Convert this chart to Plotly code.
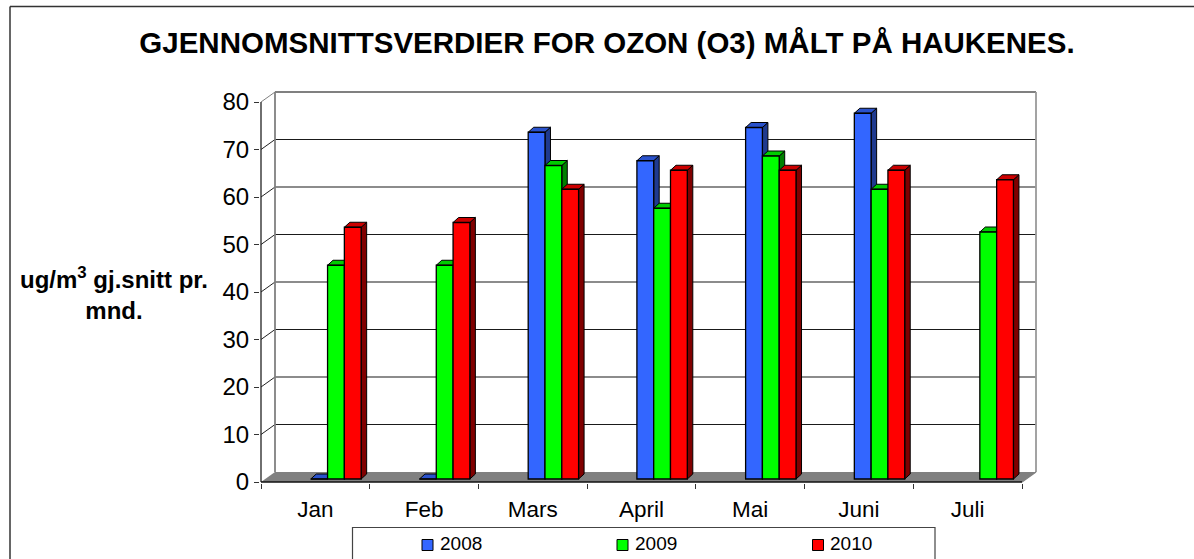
import plotly.graph_objects as go

months = ["Jan", "Feb", "Mars", "April", "Mai", "Juni", "Juli"]
y2008 = [0, 0, 73, 67, 74, 77, None]
y2009 = [45, 45, 66, 57, 68, 61, 52]
y2010 = [53, 54, 61, 65, 65, 65, 63]
y_ticks = [0, 10, 20, 30, 40, 50, 60, 70, 80]
series_names = ["2008", "2009", "2010"]
front_colors = ["#3366FF", "#00FF00", "#FF0000"]
side_colors = ["#1F3A8F", "#008000", "#800000"]
top_colors = ["#2A52CC", "#00CC00", "#CC0000"]

W, H = 1194, 559
PX_L, PX_R, PX_T, PX_B = 260, 1038, 90, 483   # plot-area box in page pixels
X0, Y0 = 261, 482                             # page position of x=-0.5, y=0
PX_X = (1022 - 261) / 7                       # pixels per category
PX_Y = 47.5 / 10                              # pixels per value unit
WALL_DX, WALL_DY = 14 / PX_X, 10 / PX_Y       # back wall offset
BAR_DX, BAR_DY = 5.5 / PX_X, 5 / PX_Y         # bar depth
BASE = 3 / PX_Y                               # bars start above the front edge
BAR_W = 16.8 / PX_X
BAR_LEFT = -4.6 / PX_X

XMIN = -0.5 + (PX_L - X0) / PX_X
XMAX = -0.5 + (PX_R - X0) / PX_X
YMIN = (Y0 - PX_B) / PX_Y
YMAX = (Y0 - PX_T) / PX_Y


def px(x):
    return (x - PX_L) / (PX_R - PX_L)


def py(y):
    return (PX_B - y) / (PX_B - PX_T)


def poly(points, fill, width=1, color="#000000"):
    d = "M" + " L".join(f"{a:.4f},{b:.4f}" for a, b in points) + " Z"
    return dict(type="path", path=d, xref="x", yref="y", layer="below",
                fillcolor=fill, line=dict(color=color, width=width))


def seg(x0, y0, x1, y1, color, width):
    return dict(type="line", x0=x0, y0=y0, x1=x1, y1=y1, xref="x", yref="y",
                layer="below", line=dict(color=color, width=width))


xl, xr = -0.5, 6.5
shapes = []
# outer frame (top and left only are on the page) and legend box
shapes.append(dict(type="line", xref="paper", yref="paper", x0=px(10), x1=px(10), y0=py(6.5), y1=py(559),
                   line=dict(color="#333333", width=1.5), layer="below"))
shapes.append(dict(type="line", xref="paper", yref="paper", x0=px(10), x1=px(1194), y0=py(6.5), y1=py(6.5),
                   line=dict(color="#333333", width=1.5), layer="below"))
shapes.append(dict(type="path", xref="paper", yref="paper",
                   path=f"M{px(352.5)},{py(560)} L{px(352.5)},{py(527.5)} L{px(935)},{py(527.5)} L{px(935)},{py(560)}",
                   line=dict(color="#444444", width=1.2), layer="below"))
# floor
shapes.append(poly([(xl, 0), (xl + WALL_DX, WALL_DY), (xr + WALL_DX, WALL_DY), (xr, 0)], "#808080", 0))
# gridlines on the back wall and their diagonals on the side wall
for v in y_ticks:
    if 0 < v < 80:
        shapes.append(seg(xl + WALL_DX, v + WALL_DY, xr + WALL_DX, v + WALL_DY, "#1a1a1a", 1.2))
    if v > 0:
        col = "#808080" if v == 80 else "#222222"
        shapes.append(seg(xl, v, xl + WALL_DX, v + WALL_DY, col, 1))
# wall edges
shapes.append(seg(xl + WALL_DX, WALL_DY, xl + WALL_DX, 80 + WALL_DY, "#808080", 1.8))
shapes.append(seg(xl + WALL_DX, 80 + WALL_DY, xr + WALL_DX, 80 + WALL_DY, "#808080", 1.8))
shapes.append(seg(xr + WALL_DX, WALL_DY, xr + WALL_DX, 80 + WALL_DY, "#999999", 1.8))
shapes.append(seg(xr, 0, xr + WALL_DX, WALL_DY, "#808080", 1.2))
# front axis lines
shapes.append(seg(xl, 0, xl, 80, "#222222", 1.3))
shapes.append(seg(xl, 0, xr, 0, "#111111", 1.4))

series = [y2008, y2009, y2010]
fig = go.Figure()
for k, vals in enumerate(series):
    off = BAR_LEFT + k * BAR_W
    fig.add_trace(go.Bar(x=list(range(7)), y=vals, base=BASE, name=series_names[k],
                         width=BAR_W, offset=off,
                         marker=dict(color=front_colors[k], line=dict(color="#000000", width=1.3)),
                         showlegend=False))
    # depth faces, drawn under the front faces
    for i, v in enumerate(vals):
        if v is None:
            continue
        a = i + off
        b = a + BAR_W
        t = v + BASE
        if v > 0:
            shapes.append(poly([(b, BASE), (b + BAR_DX, BASE + BAR_DY), (b + BAR_DX, t + BAR_DY), (b, t)], side_colors[k]))
        shapes.append(poly([(a, t), (a + BAR_DX, t + BAR_DY), (b + BAR_DX, t + BAR_DY), (b, t)], top_colors[k]))

annotations = [
    dict(text="ug/m<sup>3</sup> gj.snitt pr.<br>mnd.", xref="paper", yref="paper", x=px(114), y=py(293),
         xanchor="center", yanchor="middle", showarrow=False, align="center",
         font=dict(family="Liberation Sans", size=24, color="#000000", weight="bold")),
]
legend_swatch = [427.5, 622.5, 818]
for k, name in enumerate(series_names):
    cx = legend_swatch[k]
    shapes.append(dict(type="rect", xref="paper", yref="paper", x0=px(cx - 5.5), x1=px(cx + 5.5),
                       y0=py(550.5), y1=py(539.5), fillcolor=front_colors[k],
                       line=dict(color="#000000", width=1)))
    annotations.append(dict(text=name, xref="paper", yref="paper", x=px(cx + 10), y=py(543),
                            xanchor="left", yanchor="middle", showarrow=False,
                            font=dict(family="Liberation Sans", size=19, color="#000000")))

fig.update_layout(
    width=W, height=H, autosize=False,
    margin=dict(l=PX_L, r=W - PX_R, t=PX_T, b=H - PX_B, pad=0, autoexpand=False),
    paper_bgcolor="#FFFFFF", plot_bgcolor="#FFFFFF",
    barmode="overlay", showlegend=False,
    title=dict(text="<b>GJENNOMSNITTSVERDIER FOR OZON (O3) MÅLT PÅ HAUKENES.</b>",
               x=607 / W, xanchor="center", xref="container",
               y=1 - 43 / H, yanchor="middle", yref="container",
               font=dict(family="Liberation Sans", size=29.5, color="#000000")),
    font=dict(family="Liberation Sans", color="#000000"),
    xaxis=dict(range=[XMIN, XMAX], tickmode="array", tickvals=list(range(7)), ticktext=months,
               ticks="", showgrid=False, zeroline=False, showline=False,
               tickfont=dict(size=22.5), ticklabelstandoff=10,
               minor=dict(tickmode="array", tickvals=[i - 0.5 for i in range(8)], ticks="outside",
                          ticklen=5, tickwidth=1, tickcolor="#333333", showgrid=False)),
    yaxis=dict(range=[YMIN, YMAX], tickmode="array", tickvals=y_ticks,
               ticks="outside", ticklen=5, tickwidth=1, tickcolor="#333333",
               showgrid=False, zeroline=False, showline=False, tickfont=dict(size=24)),
    shapes=shapes, annotations=annotations,
)
fig.write_html("out.html", config=dict(displayModeBar=False),
               post_script="document.body.style.margin='0';document.body.style.overflow='hidden';")
